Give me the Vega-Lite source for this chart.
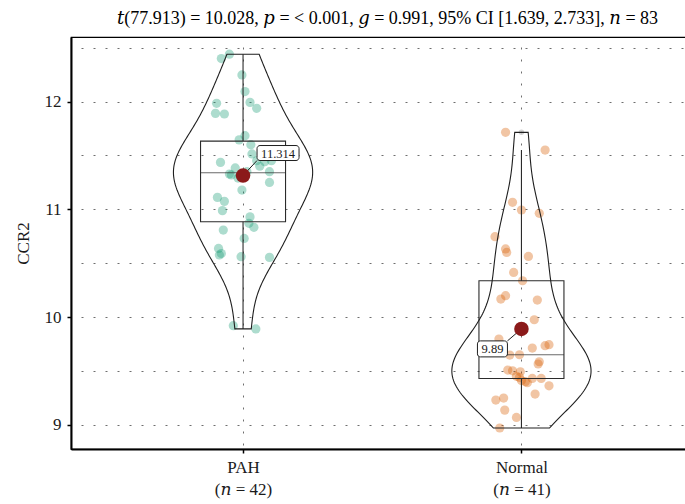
{
  "$schema": "https://vega.github.io/schema/vega-lite/v6.json",
  "width": 615,
  "height": 412,
  "autosize": "none",
  "padding": {"left": 71, "top": 37, "right": 0, "bottom": 55},
  "title": {
    "text": "𝑡(77.913) = 10.028, 𝑝 = < 0.001, 𝑔 = 0.991, 95% CI [1.639, 2.733], 𝑛 = 83",
    "font": "Liberation Serif, DejaVu Serif",
    "fontSize": 18,
    "fontWeight": "normal",
    "color": "#000000",
    "anchor": "start",
    "frame": "group",
    "baseline": "alphabetic",
    "offset": -5,
    "dx": 46
  },
  "config": {
    "font": "Liberation Serif",
    "view": {"stroke": "#000000", "strokeWidth": 1.2},
    "axis": {
      "domainColor": "#000000",
      "domainWidth": 2,
      "tickColor": "#000000",
      "tickWidth": 1.5,
      "tickSize": 4,
      "labelFont": "Liberation Serif, DejaVu Serif",
      "labelFontSize": 17,
      "labelColor": "#1a1a1a",
      "titleFont": "Liberation Serif",
      "titleFontSize": 17,
      "titleFontWeight": "normal",
      "titleColor": "#1a1a1a",
      "grid": true,
      "gridColor": "#6e6e6e",
      "gridWidth": 1,
      "gridDash": [2, 10],
      "gridDashOffset": 2
    }
  },
  "datasets": {
    "ccr2": [
      {"group": "PAH", "CCR2": 12.44, "jitter": -0.049},
      {"group": "PAH", "CCR2": 12.40, "jitter": -0.078},
      {"group": "PAH", "CCR2": 12.248, "jitter": -0.004},
      {"group": "PAH", "CCR2": 12.093, "jitter": 0.007},
      {"group": "PAH", "CCR2": 11.993, "jitter": 0.025},
      {"group": "PAH", "CCR2": 11.984, "jitter": -0.095},
      {"group": "PAH", "CCR2": 11.938, "jitter": 0.049},
      {"group": "PAH", "CCR2": 11.891, "jitter": -0.099},
      {"group": "PAH", "CCR2": 11.885, "jitter": -0.067},
      {"group": "PAH", "CCR2": 11.684, "jitter": 0.007},
      {"group": "PAH", "CCR2": 11.645, "jitter": -0.014},
      {"group": "PAH", "CCR2": 11.60, "jitter": 0.028},
      {"group": "PAH", "CCR2": 11.514, "jitter": 0.032},
      {"group": "PAH", "CCR2": 11.452, "jitter": 0.049},
      {"group": "PAH", "CCR2": 11.443, "jitter": 0.078},
      {"group": "PAH", "CCR2": 11.452, "jitter": 0.102},
      {"group": "PAH", "CCR2": 11.436, "jitter": -0.081},
      {"group": "PAH", "CCR2": 11.40, "jitter": 0.060},
      {"group": "PAH", "CCR2": 11.384, "jitter": -0.028},
      {"group": "PAH", "CCR2": 11.35, "jitter": 0.095},
      {"group": "PAH", "CCR2": 11.35, "jitter": 0.014},
      {"group": "PAH", "CCR2": 11.328, "jitter": -0.049},
      {"group": "PAH", "CCR2": 11.319, "jitter": -0.042},
      {"group": "PAH", "CCR2": 11.31, "jitter": -0.011},
      {"group": "PAH", "CCR2": 11.29, "jitter": -0.018},
      {"group": "PAH", "CCR2": 11.25, "jitter": 0.095},
      {"group": "PAH", "CCR2": 11.179, "jitter": -0.004},
      {"group": "PAH", "CCR2": 11.111, "jitter": -0.092},
      {"group": "PAH", "CCR2": 11.074, "jitter": -0.067},
      {"group": "PAH", "CCR2": 10.988, "jitter": -0.074},
      {"group": "PAH", "CCR2": 10.93, "jitter": 0.025},
      {"group": "PAH", "CCR2": 10.87, "jitter": 0.021},
      {"group": "PAH", "CCR2": 10.833, "jitter": 0.039},
      {"group": "PAH", "CCR2": 10.808, "jitter": -0.071},
      {"group": "PAH", "CCR2": 10.73, "jitter": 0.004},
      {"group": "PAH", "CCR2": 10.637, "jitter": -0.088},
      {"group": "PAH", "CCR2": 10.59, "jitter": -0.078},
      {"group": "PAH", "CCR2": 10.576, "jitter": -0.085},
      {"group": "PAH", "CCR2": 10.56, "jitter": -0.007},
      {"group": "PAH", "CCR2": 10.554, "jitter": 0.095},
      {"group": "PAH", "CCR2": 9.92, "jitter": -0.035},
      {"group": "PAH", "CCR2": 9.89, "jitter": 0.046},
      {"group": "Normal", "CCR2": 11.715, "jitter": -0.057},
      {"group": "Normal", "CCR2": 11.55, "jitter": 0.085},
      {"group": "Normal", "CCR2": 11.065, "jitter": -0.032},
      {"group": "Normal", "CCR2": 10.994, "jitter": 0.0},
      {"group": "Normal", "CCR2": 10.963, "jitter": 0.064},
      {"group": "Normal", "CCR2": 10.746, "jitter": -0.095},
      {"group": "Normal", "CCR2": 10.632, "jitter": -0.057},
      {"group": "Normal", "CCR2": 10.60, "jitter": -0.053},
      {"group": "Normal", "CCR2": 10.563, "jitter": 0.025},
      {"group": "Normal", "CCR2": 10.414, "jitter": -0.028},
      {"group": "Normal", "CCR2": 10.337, "jitter": 0.004},
      {"group": "Normal", "CCR2": 10.198, "jitter": -0.057},
      {"group": "Normal", "CCR2": 10.167, "jitter": -0.074},
      {"group": "Normal", "CCR2": 10.158, "jitter": 0.057},
      {"group": "Normal", "CCR2": 9.975, "jitter": 0.046},
      {"group": "Normal", "CCR2": 9.88, "jitter": 0.007},
      {"group": "Normal", "CCR2": 9.796, "jitter": -0.081},
      {"group": "Normal", "CCR2": 9.743, "jitter": 0.099},
      {"group": "Normal", "CCR2": 9.734, "jitter": 0.085},
      {"group": "Normal", "CCR2": 9.712, "jitter": 0.039},
      {"group": "Normal", "CCR2": 9.65, "jitter": -0.007},
      {"group": "Normal", "CCR2": 9.647, "jitter": -0.042},
      {"group": "Normal", "CCR2": 9.585, "jitter": 0.064},
      {"group": "Normal", "CCR2": 9.564, "jitter": 0.060},
      {"group": "Normal", "CCR2": 9.508, "jitter": -0.049},
      {"group": "Normal", "CCR2": 9.501, "jitter": -0.032},
      {"group": "Normal", "CCR2": 9.492, "jitter": -0.004},
      {"group": "Normal", "CCR2": 9.45, "jitter": -0.018},
      {"group": "Normal", "CCR2": 9.44, "jitter": -0.007},
      {"group": "Normal", "CCR2": 9.43, "jitter": 0.039},
      {"group": "Normal", "CCR2": 9.43, "jitter": 0.071},
      {"group": "Normal", "CCR2": 9.41, "jitter": 0.0},
      {"group": "Normal", "CCR2": 9.40, "jitter": 0.014},
      {"group": "Normal", "CCR2": 9.39, "jitter": 0.021},
      {"group": "Normal", "CCR2": 9.362, "jitter": 0.099},
      {"group": "Normal", "CCR2": 9.285, "jitter": 0.049},
      {"group": "Normal", "CCR2": 9.248, "jitter": -0.064},
      {"group": "Normal", "CCR2": 9.229, "jitter": -0.092},
      {"group": "Normal", "CCR2": 9.136, "jitter": -0.060},
      {"group": "Normal", "CCR2": 9.068, "jitter": -0.018},
      {"group": "Normal", "CCR2": 8.97, "jitter": -0.078}
    ],
    "means": [
      {"group": "PAH", "mean": 11.314, "label": "11.314"},
      {"group": "Normal", "mean": 9.89, "label": "9.89"}
    ]
  },
  "layer": [
    {
      "data": {"name": "ccr2"},
      "transform": [
        {"calculate": "(datum.group === 'PAH' ? 1 : 2) + datum.jitter", "as": "xj"}
      ],
      "mark": {"type": "circle", "size": 85, "opacity": 0.36},
      "encoding": {
        "x": {
          "field": "xj",
          "type": "quantitative",
          "scale": {"domain": [0.4, 2.5731], "nice": false, "zero": false},
          "axis": {
            "title": null,
            "values": [1, 2],
            "labelExpr": "datum.value === 1 ? ['PAH', '(𝑛 = 42)'] : ['Normal', '(𝑛 = 41)']",
            "labelLineHeight": 22,
            "labelPadding": 6,
            "labelBaseline": "top"
          }
        },
        "y": {
          "field": "CCR2",
          "type": "quantitative",
          "scale": {"domain": [8.775, 12.6], "nice": false, "zero": false},
          "axis": {
            "title": "CCR2",
            "titlePadding": 12,
            "values": [9, 9.5, 10, 10.5, 11, 11.5, 12, 12.5],
            "labelExpr": "datum.value % 1 === 0 ? format(datum.value, 'd') : ''",
            "labelPadding": 6,
            "tickOpacity": {"condition": {"test": "datum.value % 1 !== 0", "value": 0}, "value": 1}
          }
        },
        "color": {
          "field": "group",
          "type": "nominal",
          "scale": {"domain": ["PAH", "Normal"], "range": ["#1B9E77", "#D95F02"]},
          "legend": null
        }
      }
    },
    {
      "data": {"name": "ccr2"},
      "transform": [
        {"calculate": "datum.group === 'PAH' ? 1 : 2", "as": "pos"}
      ],
      "mark": {
        "type": "boxplot",
        "orient": "vertical",
        "extent": 1.5,
        "size": 85,
        "box": {"fill": "white", "fillOpacity": 0, "stroke": "#2b2b2b", "strokeWidth": 1.1},
        "median": {"color": "#2b2b2b", "strokeWidth": 1.1},
        "rule": {"color": "#2b2b2b", "strokeWidth": 1.1},
        "outliers": {"color": "#c8c8c8", "size": 30, "filled": true, "opacity": 0.8}
      },
      "encoding": {
        "x": {"field": "pos", "type": "quantitative"},
        "y": {"field": "CCR2", "type": "quantitative"}
      }
    },
    {
      "data": {"name": "ccr2"},
      "transform": [
        {"density": "CCR2", "groupby": ["group"], "bandwidth": 0.3, "steps": 150, "resolve": "independent", "as": ["value", "density"]},
        {"joinaggregate": [{"op": "max", "field": "density", "as": "peak"}], "groupby": ["group"]},
        {"calculate": "(datum.group === 'PAH' ? 1 : 2) - 0.25 * datum.density / datum.peak", "as": "left"},
        {"calculate": "(datum.group === 'PAH' ? 1 : 2) + 0.25 * datum.density / datum.peak", "as": "right"}
      ],
      "mark": {"type": "area", "orient": "horizontal", "fillOpacity": 0, "stroke": "#1f1f1f", "strokeWidth": 1.1},
      "encoding": {
        "y": {"field": "value", "type": "quantitative"},
        "x": {"field": "left", "type": "quantitative"},
        "x2": {"field": "right"},
        "detail": {"field": "group"}
      }
    },
    {
      "data": {"name": "means"},
      "transform": [{"calculate": "datum.group === 'PAH' ? 1 : 2", "as": "pos"}],
      "mark": {
        "type": "rule",
        "color": "#1f1f1f",
        "strokeWidth": 1,
        "x2Offset": {"expr": "datum.group === 'PAH' ? 14 : -14"},
        "y2Offset": {"expr": "datum.group === 'PAH' ? -15 : 12"}
      },
      "encoding": {
        "x": {"field": "pos", "type": "quantitative"},
        "x2": {"field": "pos"},
        "y": {"field": "mean", "type": "quantitative"},
        "y2": {"field": "mean"}
      }
    },
    {
      "data": {"name": "means"},
      "transform": [{"calculate": "datum.group === 'PAH' ? 1 : 2", "as": "pos"}],
      "mark": {"type": "circle", "size": 210, "color": "#8B1A1A", "opacity": 1},
      "encoding": {
        "x": {"field": "pos", "type": "quantitative"},
        "y": {"field": "mean", "type": "quantitative"}
      }
    },
    {
      "data": {"name": "means"},
      "transform": [{"calculate": "datum.group === 'PAH' ? 1 : 2", "as": "pos"}],
      "mark": {
        "type": "rect",
        "fill": "white",
        "stroke": "#1f1f1f",
        "strokeWidth": 1,
        "cornerRadius": 3,
        "xOffset": {"expr": "datum.group === 'PAH' ? 14 : -44"},
        "x2Offset": {"expr": "datum.group === 'PAH' ? 56 : -14"},
        "yOffset": {"expr": "datum.group === 'PAH' ? -30 : 12"},
        "y2Offset": {"expr": "datum.group === 'PAH' ? -15 : 28"}
      },
      "encoding": {
        "x": {"field": "pos", "type": "quantitative"},
        "x2": {"field": "pos"},
        "y": {"field": "mean", "type": "quantitative"},
        "y2": {"field": "mean"}
      }
    },
    {
      "data": {"name": "means"},
      "transform": [{"calculate": "datum.group === 'PAH' ? 1 : 2", "as": "pos"}],
      "mark": {
        "type": "text",
        "font": "Liberation Serif",
        "fontSize": 12.5,
        "color": "#1a1a1a",
        "align": "center",
        "baseline": "middle",
        "dx": {"expr": "datum.group === 'PAH' ? 35 : -29"},
        "dy": {"expr": "datum.group === 'PAH' ? -22 : 20"}
      },
      "encoding": {
        "x": {"field": "pos", "type": "quantitative"},
        "y": {"field": "mean", "type": "quantitative"},
        "text": {"field": "label"}
      }
    }
  ]
}
